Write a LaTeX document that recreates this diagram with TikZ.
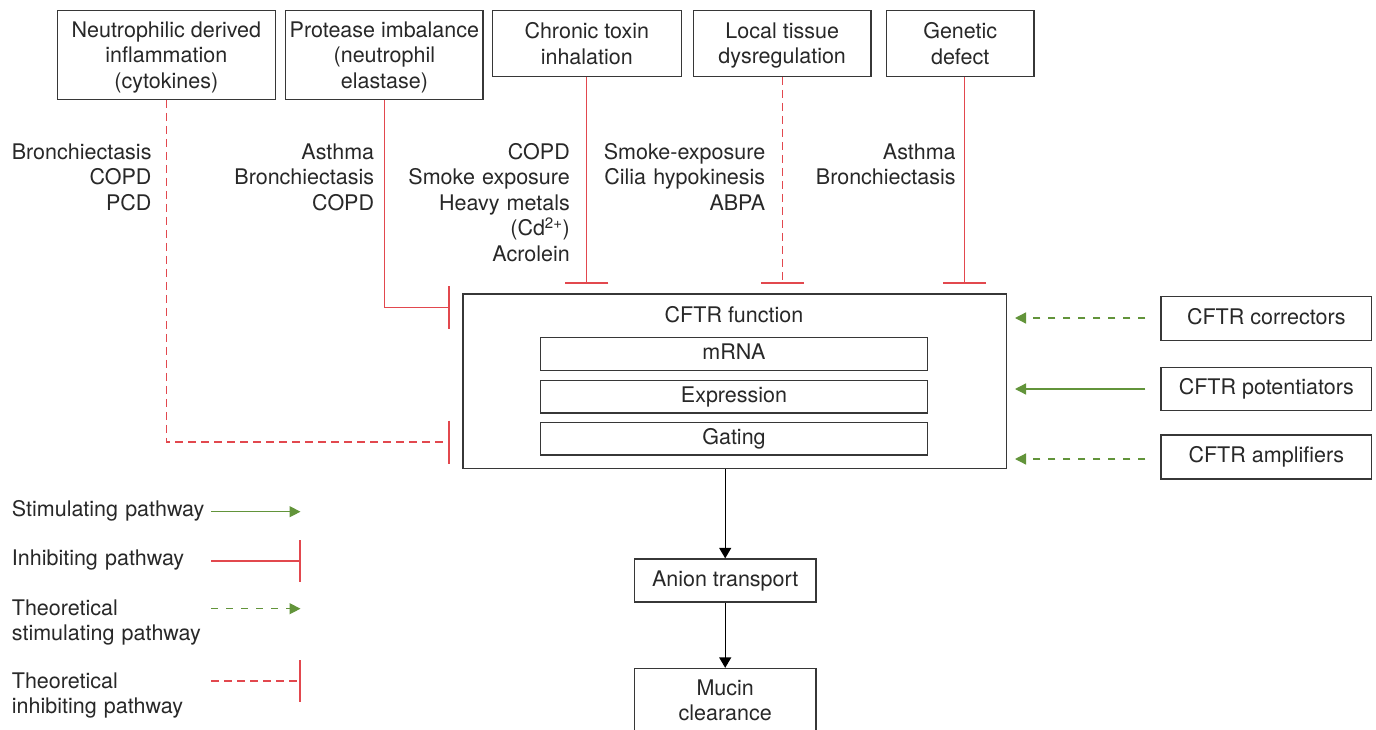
\documentclass[tikz,border=0pt]{standalone}
\usepackage{fontspec}
\setmainfont{TeX Gyre Heros}
\usetikzlibrary{arrows.meta,calc}
\definecolor{inh}{RGB}{226,72,78}
\definecolor{stim}{RGB}{98,148,58}
\definecolor{ink}{RGB}{40,40,40}
\definecolor{edge}{RGB}{55,55,55}
\begin{document}
\begin{tikzpicture}[x=1pt,y=-1pt,
  font=\fontsize{21.5}{25.5}\selectfont, text=ink,
  box/.style={draw=edge, line width=1.3pt, inner sep=0pt, align=center, text height=15.5pt, text depth=4.5pt},
  mbox/.style={draw=edge, line width=1.3pt, inner sep=0pt, align=center},
  lbl/.style={inner sep=0pt, anchor=base east, align=right, text width=200pt},
  leg/.style={inner sep=0pt, anchor=base west, align=left, text width=200pt},
  inhline/.style={color=inh, line width=1.3pt, -{Bar[width=43pt]}},
  inhdash/.style={inhline, dash pattern=on 8pt off 5pt},
  stimline/.style={color=stim, line width=1.3pt, -{Triangle[length=11pt,width=11pt]}},
  stimdash/.style={stimline, dash pattern=on 7pt off 8pt},
  flow/.style={color=black, line width=1.3pt, -{Triangle[length=10.5pt,width=12pt]}}]
\useasboundingbox (0,0) rectangle (1376,730);
\clip (0,0) rectangle (1376,730);
\fill[white] (0,0) rectangle (1376,730);

% top cause boxes
\node[mbox, minimum width=218pt, minimum height=88.6pt] (n1) at (166.3,55) {\rule{0pt}{20.5pt}Neutrophilic derived\\inflammation\\(cytokines)};
\node[mbox, minimum width=197.3pt, minimum height=88.6pt] (n2) at (384.4,55) {\rule{0pt}{20.5pt}Protease imbalance\\(neutrophil\\elastase)};
\node[mbox, minimum width=189pt, minimum height=65.6pt] (n3) at (586.8,43.5) {Chronic toxin\\inhalation};
\node[mbox, minimum width=177.5pt, minimum height=65.6pt] (n4) at (782.2,43.5) {\rule{0pt}{19.5pt}Local tissue\\dysregulation};
\node[mbox, minimum width=147.5pt, minimum height=65.6pt] (n5) at (960.2,43.5) {Genetic\\defect};

% disease labels
\node[lbl] (d1) at (151.7,159.3) {Bronchiectasis\\COPD\\PCD};
\node[lbl] (d2) at (374.3,159.3) {Asthma\\Bronchiectasis\\COPD};
\node[lbl] (d3) at (570,159.3) {COPD\\Smoke exposure\\Heavy metals\\(Cd\textsuperscript{2+})\\Acrolein};
\node[lbl] (d4) at (765.4,159.3) {Smoke-exposure\\Cilia hypokinesis\\ABPA};
\node[lbl] (d5) at (955.8,159.3) {Asthma\\Bronchiectasis};

% CFTR function box
\node[draw=edge, line width=1.3pt, minimum width=543.5pt, minimum height=174.7pt, inner sep=0pt] (cftr) at (734.7,381.3) {};
\node[inner sep=0pt, anchor=base] (cftrt) at (734,322.7) {CFTR function};
\node[box, minimum width=387.3pt, minimum height=32.6pt] (mrna) at (734,354) {mRNA};
\node[box, minimum width=387.3pt, minimum height=32.6pt] (expr) at (734,396.7) {Expression};
\node[box, minimum width=387.3pt, minimum height=32.6pt] (gate) at (734,438.7) {Gating};

% modulators
\node[box, minimum width=210.7pt, minimum height=43.6pt] (corr) at (1266.3,318.5) {CFTR correctors};
\node[box, minimum width=210.7pt, minimum height=43.6pt] (pot) at (1266.3,389) {CFTR potentiators};
\node[box, minimum width=210.7pt, minimum height=44pt] (ampl) at (1266.3,457) {CFTR amplifiers};

% downstream
\node[box, minimum width=181.7pt, minimum height=43pt] (anion) at (725.2,580.5) {Anion transport};
\node[mbox, minimum width=181.7pt, minimum height=64pt] (mucin) at (725.2,700.5) {Mucin\\clearance};

% inhibitory connectors
\coordinate (b1) at (449.6,442);
\coordinate (b2) at (449.6,307.5);
\coordinate (b3) at (586.8,283.7);
\coordinate (b4) at (782.2,283.7);
\coordinate (b5) at (964.6,283.7);
\draw[inhdash] (n1.south) |- (b1);
\draw[inhline] (n2.south) |- (b2);
\draw[inhline] (n3.south) -- (b3);
\draw[inhdash] (n4.south) -- (b4);
\draw[inhline] (n5.south -| b5) -- (b5);

% stimulating connectors
\coordinate (s1) at (1015,318);
\coordinate (s2) at (1015,389);
\coordinate (s3) at (1015,459);
\draw[stimdash] ([xshift=-15pt]corr.west |- s1) -- (s1);
\draw[stimline] ([xshift=-15pt]pot.west |- s2) -- (s2);
\draw[stimdash] ([xshift=-15pt]ampl.west |- s3) -- (s3);

% flow
\draw[flow] (cftr.south -| anion.north) -- (anion.north);
\draw[flow] (anion.south) -- (mucin.north);

% legend
\node[leg] (l1) at (11.7,516.7) {Stimulating pathway};
\node[leg] (l2) at (11.7,565) {Inhibiting pathway};
\node[leg] (l3) at (11.7,615) {Theoretical\\stimulating pathway};
\node[leg] (l4) at (11.7,688) {Theoretical\\inhibiting pathway};
\coordinate (la1) at (211,511.7); \coordinate (lb1) at (300.5,511.7);
\coordinate (la2) at (211,561);   \coordinate (lb2) at (300.5,561);
\coordinate (la3) at (211,608.7); \coordinate (lb3) at (300.5,608.7);
\coordinate (la4) at (211,681);   \coordinate (lb4) at (300.5,681);
\draw[stimline] (la1) -- (lb1);
\draw[inhline, -{Bar[width=42pt]}] (la2) -- (lb2);
\draw[stimdash] (la3) -- (lb3);
\draw[inhdash, -{Bar[width=42pt]}] (la4) -- (lb4);
\end{tikzpicture}
\end{document}
